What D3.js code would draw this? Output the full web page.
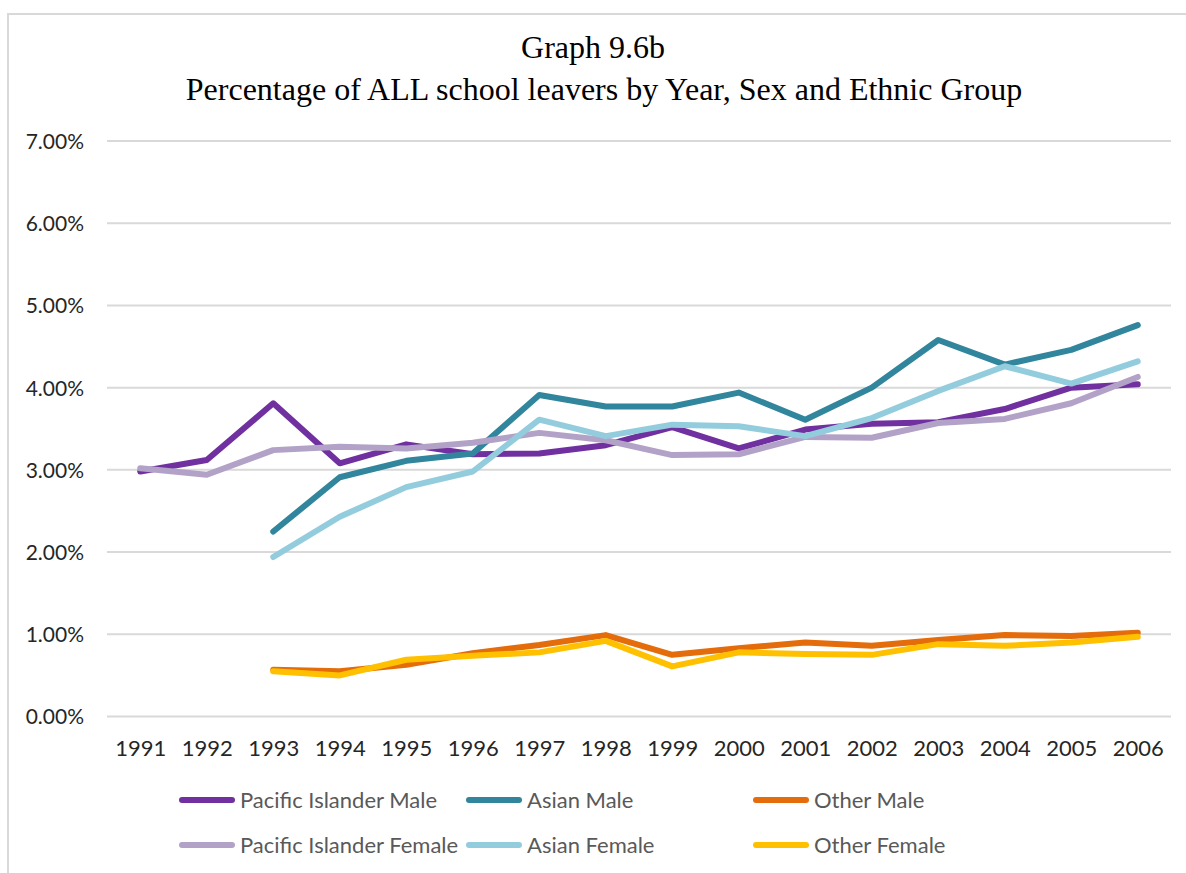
<!DOCTYPE html>
<meta charset="utf-8">
<script src="https://d3js.org/d3.v7.min.js"></script>
<style>
  body { margin: 0; background: #fff; }
</style>
<div id="my_dataviz"></div>
<script>

// data (percent of all school leavers)
var years = ["1991","1992","1993","1994","1995","1996","1997","1998","1999","2000","2001","2002","2003","2004","2005","2006"];
var yTicks = [0, 1, 2, 3, 4, 5, 6, 7];

var piMale   = [2.98, 3.12, 3.81, 3.08, 3.31, 3.19, 3.20, 3.30, 3.52, 3.26, 3.49, 3.56, 3.58, 3.74, 4.00, 4.04];
var piFemale = [3.02, 2.94, 3.24, 3.28, 3.26, 3.33, 3.45, 3.36, 3.18, 3.19, 3.40, 3.39, 3.57, 3.62, 3.81, 4.13];
var asMale   = [null, null, 2.25, 2.91, 3.11, 3.20, 3.91, 3.77, 3.77, 3.94, 3.61, 4.00, 4.58, 4.28, 4.46, 4.76];
var asFemale = [null, null, 1.94, 2.43, 2.79, 2.98, 3.61, 3.41, 3.55, 3.53, 3.41, 3.63, 3.96, 4.26, 4.05, 4.32];
var otMale   = [null, null, 0.57, 0.55, 0.63, 0.77, 0.87, 0.99, 0.75, 0.83, 0.90, 0.86, 0.93, 0.99, 0.98, 1.02];
var otFemale = [null, null, 0.55, 0.50, 0.69, 0.74, 0.78, 0.92, 0.61, 0.78, 0.76, 0.75, 0.88, 0.86, 0.90, 0.97];

var series = [
  {name: "Pacific Islander Male",   values: piMale,   color: "#7030A0"},
  {name: "Pacific Islander Female", values: piFemale, color: "#B3A2C7"},
  {name: "Asian Male",              values: asMale,   color: "#31859C"},
  {name: "Asian Female",            values: asFemale, color: "#93CDDD"},
  {name: "Other Male",              values: otMale,   color: "#E46C0A"},
  {name: "Other Female",            values: otFemale, color: "#FFC000"}
];
// drawing order: males first, females on top
var drawOrder = [0, 2, 4, 1, 3, 5];

var W = 1186, H = 873;
var plot = {left: 107, right: 1171, top: 141, bottom: 716.5};
var sans = "Lato, 'Open Sans', sans-serif";
var serif = "'Liberation Serif', 'Times New Roman', serif";

var svg = d3.select("#my_dataviz")
  .append("svg")
    .attr("width", W)
    .attr("height", H);

// chart border (only top/left visible in the picture)
svg.append("rect")
  .attr("x", 8).attr("y", 14)
  .attr("width", W + 20).attr("height", H + 20)
  .attr("fill", "none")
  .attr("stroke", "#D9D9D9")
  .attr("stroke-width", 2);

// title
svg.append("text")
  .attr("x", 593).attr("y", 58)
  .attr("text-anchor", "middle")
  .style("font-family", serif)
  .style("font-size", "32px")
  .attr("fill", "#000")
  .text("Graph 9.6b");
svg.append("text")
  .attr("x", 604).attr("y", 100)
  .attr("text-anchor", "middle")
  .style("font-family", serif)
  .style("font-size", "32px")
  .attr("fill", "#000")
  .text("Percentage of ALL school leavers by Year, Sex and Ethnic Group");

// scales
var x = d3.scalePoint()
  .domain(years)
  .range([plot.left, plot.right])
  .padding(0.5);

var y = d3.scaleLinear()
  .domain([0, 7])
  .range([plot.bottom, plot.top]);

// gridlines
svg.append("g")
  .selectAll("line")
  .data(yTicks)
  .enter()
  .append("line")
    .attr("x1", plot.left)
    .attr("x2", plot.right)
    .attr("y1", function(d) { return y(d); })
    .attr("y2", function(d) { return y(d); })
    .attr("stroke", "#D9D9D9")
    .attr("stroke-width", 2);

// Y axis labels
var yAxis = svg.append("g")
  .attr("transform", "translate(84,0)")
  .call(d3.axisLeft(y).tickValues(yTicks).tickSize(0).tickFormat(function(d) { return d.toFixed(2) + "%"; }));
yAxis.select(".domain").remove();
yAxis.selectAll("text")
  .attr("x", 0)
  .attr("dy", "0.35em")
  .style("font-family", sans)
  .style("font-size", "21px")
  .attr("fill", "#262626");

// X axis labels
var xAxis = svg.append("g")
  .attr("transform", "translate(0," + plot.bottom + ")")
  .call(d3.axisBottom(x).tickSize(0));
xAxis.select(".domain").remove();
xAxis.selectAll("text")
  .attr("y", 39)
  .attr("dy", 0)
  .style("font-family", sans)
  .style("font-size", "22px")
  .attr("fill", "#262626");

// lines
var line = d3.line()
  .defined(function(d) { return d.v !== null; })
  .x(function(d) { return x(d.year); })
  .y(function(d) { return y(d.v); });

svg.append("g")
  .selectAll("path")
  .data(drawOrder.map(function(i) { return series[i]; }))
  .enter()
  .append("path")
    .attr("d", function(s) {
      return line(s.values.map(function(v, i) { return {year: years[i], v: v}; }));
    })
    .attr("fill", "none")
    .attr("stroke", function(s) { return s.color; })
    .attr("stroke-width", 6)
    .attr("stroke-linejoin", "round")
    .attr("stroke-linecap", "round");

// legend: 3 columns x 2 rows
var legendCols = [180, 467, 754];
var legendRows = [800, 845];
var legendPos = [[0,0],[0,1],[1,0],[1,1],[2,0],[2,1]];

var legend = svg.append("g")
  .selectAll("g")
  .data(series)
  .enter()
  .append("g")
    .attr("transform", function(s, i) {
      return "translate(" + legendCols[legendPos[i][0]] + "," + legendRows[legendPos[i][1]] + ")";
    });

legend.append("line")
  .attr("x1", 2).attr("x2", 52)
  .attr("y1", 0).attr("y2", 0)
  .attr("stroke", function(s) { return s.color; })
  .attr("stroke-width", 6)
  .attr("stroke-linecap", "round");

legend.append("text")
  .attr("x", 60)
  .attr("y", 0)
  .attr("dy", "0.35em")
  .style("font-family", sans)
  .style("font-size", "22px")
  .attr("fill", "#595959")
  .text(function(s) { return s.name; });

</script>
